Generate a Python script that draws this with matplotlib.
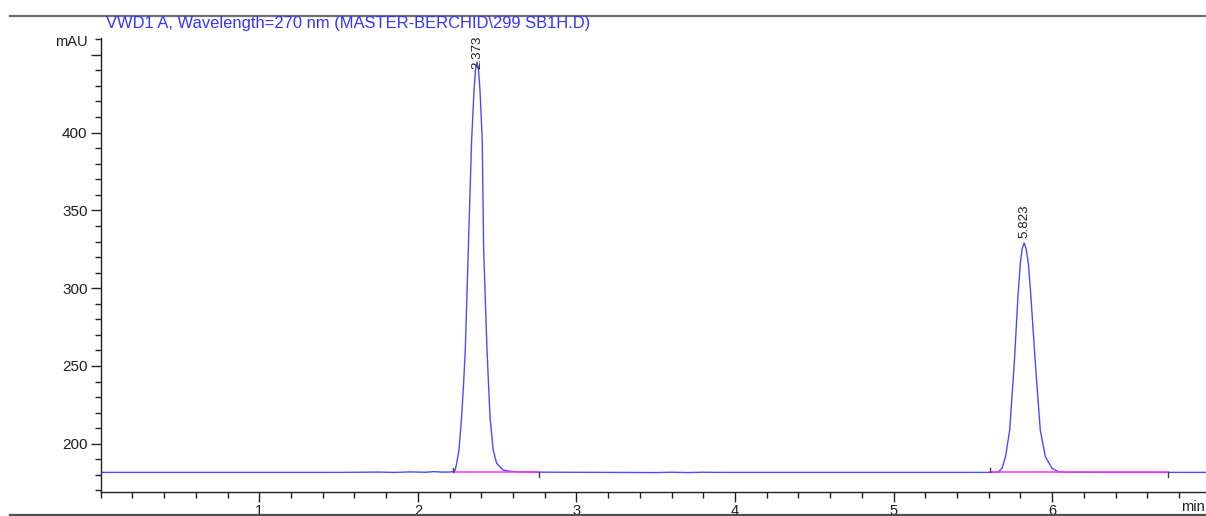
import matplotlib
matplotlib.use("Agg")
import matplotlib.pyplot as plt
from matplotlib.lines import Line2D
from matplotlib.ticker import MultipleLocator, FixedLocator

plt.rcParams['font.family'] = ['Liberation Sans', 'DejaVu Sans']

# Detector signal (VWD1 A, 270 nm): retention time [min] vs absorbance [mAU]
time_min = [0.00, 0.60, 1.20, 1.50, 1.75, 1.85, 1.95, 2.05, 2.10, 2.15, 2.20,
            2.225, 2.235, 2.245, 2.259, 2.276, 2.288, 2.299, 2.318, 2.339, 2.355,
            2.364, 2.373, 2.382, 2.392, 2.406, 2.415, 2.436, 2.455, 2.475, 2.497,
            2.538, 2.580, 2.623, 2.70, 2.90, 3.20, 3.50, 3.60, 3.70, 3.80, 3.90,
            4.20, 4.80, 5.30, 5.60, 5.660, 5.683, 5.706, 5.732, 5.761, 5.784,
            5.799, 5.811, 5.823, 5.835, 5.850, 5.866, 5.894, 5.925, 5.957, 5.999,
            6.041, 6.100, 6.40, 6.97]
absorbance_mau = [181.6, 181.6, 181.6, 181.6, 181.8, 181.6, 181.9, 181.7, 182.1, 181.8, 181.8,
                  182.2, 183.1, 187.4, 196.0, 217.3, 238.0, 260.2, 324.4, 395.1, 428.7,
                  441.0, 445.3, 441.0, 427.0, 395.1, 324.4, 260.2, 217.3, 196.0, 187.4,
                  183.1, 182.3, 182.0, 181.8, 181.7, 181.6, 181.5, 181.7, 181.5, 181.7, 181.6,
                  181.6, 181.6, 181.6, 181.6, 181.8, 184.2, 191.7, 208.8, 251.6, 294.4,
                  315.9, 325.5, 329.1, 325.5, 315.9, 294.4, 251.6, 208.8, 191.7, 184.2,
                  182.0, 181.7, 181.6, 181.6]

# Integrated peaks: apex retention time, apex height, baseline start/end
peak_rt = [2.373, 5.823]
peak_height = [445.3, 329.1]
peak_labels = ["2.373", "5.823"]
baseline_start = [2.219, 5.607]
baseline_end = [2.764, 6.729]
baseline_level = [181.6, 181.6]

x_major_ticks = [1, 2, 3, 4, 5, 6]
y_major_ticks = [200, 250, 300, 350, 400, 450]
y_tick_labels = ["200", "250", "300", "350", "400", ""]

W, H = 1206, 516
fig = plt.figure(figsize=(W / 100, H / 100), dpi=100)
ax_left, ax_right, ax_top, ax_bottom = 100.7, 1206, 37.7, 492
ax = fig.add_axes([ax_left / W, 1 - ax_bottom / H, (ax_right - ax_left) / W, (ax_bottom - ax_top) / H])
ax.set_xlim(0, 6.97)
ax.set_ylim(169, 461)

# Signal trace
ax.plot(time_min, absorbance_mau, color='#2b2bff', lw=1.0, alpha=0.85, zorder=3,
        solid_joinstyle='round')

# Integration baselines with start/end markers
for xs, xe, yb in zip(baseline_start, baseline_end, baseline_level):
    ax.plot([xs, xe], [yb, yb], color='#ff33ff', lw=1.1, zorder=4)
    ax.plot([xs, xs], [yb, yb + 3.0], color='#404040', lw=1.0, zorder=5)
    ax.plot([xe, xe], [yb, yb - 3.0], color='#404040', lw=1.0, zorder=5)

# Retention time labels above the apexes, kept inside the plotting area
label_len = 20.0
for rt, h, lab in zip(peak_rt, peak_height, peak_labels):
    y0 = min(h + 3.0, 461 - label_len)
    ax.text(rt + 0.004, y0, lab, rotation=90, ha='center', va='bottom', fontsize=9.6,
            color='#202020', zorder=6)

# Axes styling
for s in ('top', 'right'):
    ax.spines[s].set_visible(False)
for s in ('left', 'bottom'):
    ax.spines[s].set_linewidth(1.0)
    ax.spines[s].set_color('#202020')

ax.xaxis.set_major_locator(FixedLocator(x_major_ticks))
ax.xaxis.set_minor_locator(MultipleLocator(0.2))
ax.set_xticklabels([str(v) for v in x_major_ticks])
ax.yaxis.set_major_locator(FixedLocator(y_major_ticks))
ax.yaxis.set_minor_locator(MultipleLocator(10))
ax.set_yticklabels(y_tick_labels)
ax.tick_params(axis='both', which='major', length=7, width=1.0, color='#202020',
               labelsize=11, labelcolor='#202020')
ax.tick_params(axis='both', which='minor', length=4.5, width=1.0, color='#202020')
ax.tick_params(axis='x', which='major', pad=1.5, labelsize=10.5)
ax.tick_params(axis='y', which='major', pad=2.5)

# Unit labels
fig.text(88 / W, 1 - 42 / H, "mAU", ha='right', va='center', fontsize=10.5, color='#202020')
fig.text(1205 / W, 1 - 507 / H, "min", ha='right', va='center', fontsize=10.5, color='#202020')

# Signal description
fig.text(106 / W, 1 - 23.5 / H, "VWD1 A, Wavelength=270 nm (MASTER-BERCHID\\299 SB1H.D)",
         ha='left', va='center', fontsize=11.9, color='#3535ff')

# Page frame rules
fig.add_artist(Line2D([10 / W, 1.0], [1 - 15.5 / H, 1 - 15.5 / H], color='#707070', lw=1.6))
fig.add_artist(Line2D([10 / W, 1.0], [1 - 514.5 / H, 1 - 514.5 / H], color='#505050', lw=1.6))

fig.savefig("out.png", dpi=100)
